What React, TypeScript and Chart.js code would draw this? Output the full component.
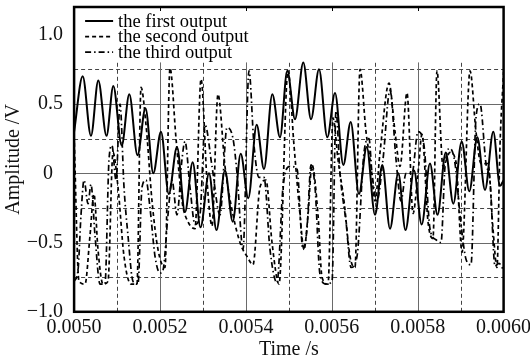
import React, { useEffect, useRef } from "react";
import Chart from "chart.js/auto";

// ---- data (time in microseconds, amplitude in V) ----
const seriesLabels = ["the first output", "the second output", "the third output"];

const firstTimeUs = [5000.0, 5020.0, 5039.3, 5056.3, 5075.4, 5091.3, 5110.8, 5128.5, 5147.6, 5166.2, 5184.4, 5202.3, 5220.5, 5239.6, 5258.2, 5276.1, 5294.3, 5314.1, 5331.5, 5351.3, 5369.3, 5387.9, 5405.6, 5425.1, 5442.1, 5461.5, 5479.4, 5496.4, 5514.3, 5533.6, 5551.6, 5570.2, 5589.5, 5607.5, 5626.8, 5644.0, 5663.3, 5681.3, 5700.6, 5717.6, 5735.5, 5754.8, 5771.6, 5791.4, 5809.3, 5828.6, 5846.1, 5865.2, 5882.9, 5902.4, 5920.1, 5938.8, 5956.7, 5976.0, 5991.6, 6000.0];
const firstValues = [0.30, 0.70, 0.27, 0.67, 0.27, 0.63, 0.20, 0.57, 0.13, 0.47, 0.00, 0.30, -0.15, 0.19, -0.28, 0.08, -0.39, 0.00, -0.41, 0.02, -0.35, 0.14, -0.18, 0.35, 0.03, 0.57, 0.26, 0.74, 0.39, 0.80, 0.39, 0.75, 0.26, 0.58, 0.06, 0.37, -0.15, 0.19, -0.30, 0.06, -0.40, 0.00, -0.41, 0.02, -0.37, 0.07, -0.30, 0.15, -0.22, 0.23, -0.13, 0.26, -0.12, 0.30, -0.09, -0.05];

const secondTimeUs = [5000.0, 5011.4, 5025.4, 5037.0, 5046.3, 5055.6, 5067.3, 5078.9, 5090.6, 5102.2, 5116.2, 5132.5, 5146.4, 5155.8, 5167.4, 5181.4, 5195.3, 5211.6, 5223.3, 5237.3, 5251.2, 5265.2, 5281.5, 5295.5, 5309.4, 5321.1, 5335.0, 5351.3, 5370.0, 5388.6, 5402.6, 5416.5, 5432.8, 5446.8, 5460.8, 5477.1, 5498.0, 5512.0, 5526.0, 5535.3, 5544.6, 5553.9, 5567.9, 5577.2, 5591.2, 5602.8, 5614.4, 5628.4, 5642.4, 5654.0, 5665.7, 5679.6, 5691.3, 5700.6, 5712.2, 5733.2, 5747.2, 5758.8, 5775.1, 5789.1, 5800.7, 5810.0, 5824.0, 5835.6, 5844.9, 5858.9, 5875.2, 5889.2, 5903.2, 5921.8, 5935.7, 5947.4, 5963.7, 5975.3, 5984.6, 5991.6, 6000.0];
const secondValues = [0.27, -0.78, -0.80, -0.45, -0.15, -0.55, -0.80, -0.78, 0.15, -0.10, -0.60, -0.80, -0.80, 0.62, 0.35, -0.20, -0.55, -0.68, 0.76, 0.25, -0.20, -0.35, -0.40, 0.68, -0.05, -0.38, 0.57, 0.05, -0.30, -0.52, -0.60, -0.66, -0.10, -0.05, -0.50, -0.80, 0.74, 0.20, -0.30, -0.55, -0.30, 0.06, -0.30, -0.75, -0.80, 0.40, 0.10, -0.20, -0.60, -0.68, 0.75, 0.30, 0.05, -0.20, 0.15, 0.65, 0.30, 0.05, 0.58, -0.29, 0.00, 0.28, -0.35, -0.47, 0.74, 0.05, 0.15, 0.08, -0.57, 0.74, 0.30, 0.07, 0.07, -0.40, -0.68, 0.20, 0.73];

const thirdTimeUs = [5000.0, 5009.1, 5016.1, 5023.1, 5032.4, 5039.3, 5048.7, 5060.3, 5071.9, 5081.3, 5088.2, 5097.6, 5106.9, 5116.2, 5125.5, 5137.1, 5148.8, 5158.1, 5167.4, 5176.7, 5188.4, 5200.0, 5207.0, 5218.6, 5227.9, 5239.6, 5251.2, 5258.2, 5269.8, 5281.5, 5293.1, 5304.8, 5321.1, 5339.7, 5356.0, 5370.0, 5379.3, 5393.3, 5407.2, 5418.9, 5430.5, 5442.1, 5456.1, 5472.4, 5486.4, 5502.7, 5519.0, 5532.9, 5542.3, 5551.6, 5560.9, 5572.5, 5586.5, 5600.5, 5609.8, 5619.1, 5633.1, 5644.7, 5658.7, 5675.0, 5686.6, 5693.6, 5705.2, 5719.2, 5735.5, 5749.5, 5761.1, 5772.8, 5786.7, 5800.7, 5814.7, 5828.6, 5842.6, 5854.3, 5863.6, 5875.2, 5886.9, 5898.5, 5912.5, 5924.1, 5935.7, 5945.1, 5959.0, 5968.3, 5980.0, 5989.3, 6000.0];
const thirdValues = [-0.78, -0.70, -0.30, -0.05, -0.22, -0.08, -0.45, -0.80, -0.80, 0.10, 0.20, -0.05, 0.50, -0.10, -0.45, -0.78, -0.80, -0.10, -0.05, -0.25, -0.60, -0.72, -0.70, -0.30, -0.05, -0.30, 0.10, 0.23, -0.10, -0.37, -0.30, 0.35, 0.05, -0.30, 0.33, 0.25, 0.00, -0.55, 0.74, 0.20, -0.03, -0.03, -0.55, -0.79, -0.10, 0.05, 0.03, -0.55, -0.40, 0.06, -0.10, -0.73, -0.80, -0.78, 0.45, 0.00, -0.35, -0.68, -0.60, 0.15, 0.25, 0.00, -0.20, 0.10, 0.60, 0.10, -0.20, 0.00, 0.00, 0.30, 0.20, -0.40, -0.48, -0.50, 0.05, 0.18, 0.07, -0.30, -0.62, -0.66, 0.40, 0.50, 0.07, -0.05, -0.67, -0.65, -0.70];

const xTickValues = [0.005, 0.0052, 0.0054, 0.0056, 0.0058, 0.006];
const xTickLabels = ["0.0050", "0.0052", "0.0054", "0.0056", "0.0058", "0.0060"];
const xGridSolid = [0.0052, 0.0054, 0.0056, 0.0058];
const xGridDashed = [0.0051, 0.0053, 0.0055, 0.0057, 0.0059];
const yTickValues = [-1.0, -0.5, 0, 0.5, 1.0];
const yTickLabels = ["\u22121.0", "\u22120.5", "0", "0.5", "1.0"];
const yGridSolid = [-0.5, 0, 0.5];
const yGridDashed = [-0.75, -0.25, 0.25, 0.75];
const yGridTop = 0.8;
const xMin = 0.005, xMax = 0.006, yMin = -1.0, yMax = 1.2;

const FONT = '"Liberation Serif", "Times New Roman", serif';

const toPoints = (ts: number[], vs: number[]) => ts.map((t, i) => ({ x: t / 1e6, y: vs[i] }));

const gridPlugin = {
  id: "customGrid",
  beforeDatasetsDraw(chart: any) {
    const { ctx, chartArea: a, scales } = chart;
    const xs = scales.x, ys = scales.y;
    ctx.save();
    ctx.lineWidth = 1;
    ctx.strokeStyle = "#6a6a6a";
    ctx.setLineDash([]);
    yGridSolid.forEach((v) => {
      const y = Math.round(ys.getPixelForValue(v)) + 0.5;
      ctx.beginPath(); ctx.moveTo(a.left, y); ctx.lineTo(a.right, y); ctx.stroke();
    });
    ctx.strokeStyle = "#444";
    ctx.setLineDash([4, 3]);
    yGridDashed.forEach((v) => {
      const y = Math.round(ys.getPixelForValue(v)) + 0.5;
      ctx.beginPath(); ctx.moveTo(a.left, y); ctx.lineTo(a.right, y); ctx.stroke();
    });
    const yTop = ys.getPixelForValue(yGridTop);
    ctx.strokeStyle = "#6a6a6a";
    ctx.setLineDash([]);
    xGridSolid.forEach((v) => {
      const x = Math.round(xs.getPixelForValue(v)) + 0.5;
      ctx.beginPath(); ctx.moveTo(x, a.bottom); ctx.lineTo(x, yTop); ctx.stroke();
    });
    ctx.strokeStyle = "#444";
    ctx.setLineDash([4, 3]);
    xGridDashed.forEach((v) => {
      const x = Math.round(xs.getPixelForValue(v)) + 0.5;
      ctx.beginPath(); ctx.moveTo(x, a.bottom); ctx.lineTo(x, yTop); ctx.stroke();
    });
    ctx.restore();
  },
  afterDatasetsDraw(chart: any) {
    const { ctx, chartArea: a, scales } = chart;
    ctx.save();
    ctx.strokeStyle = "#000";
    ctx.setLineDash([]);
    ctx.lineWidth = 1;
    xGridSolid.forEach((v) => {
      const x = Math.round(scales.x.getPixelForValue(v)) + 0.5;
      ctx.beginPath(); ctx.moveTo(x, a.top); ctx.lineTo(x, a.top + 4); ctx.stroke();
    });
    ctx.lineWidth = 2.5;
    ctx.strokeRect(a.left, a.top, a.right - a.left, a.bottom - a.top);
    chart.data.datasets.forEach((ds: any, i: number) => {
      const y = a.top + 14 + i * 15.6;
      const x0 = a.left + 11, x1 = a.left + 39;
      ctx.lineWidth = ds.borderWidth;
      ctx.setLineDash(ds.borderDash || []);
      ctx.beginPath(); ctx.moveTo(x0, y); ctx.lineTo(x1, y); ctx.stroke();
      ctx.setLineDash([]);
      ctx.fillStyle = "#000";
      ctx.font = `18.5px ${FONT}`;
      ctx.textBaseline = "middle";
      ctx.textAlign = "left";
      ctx.fillText(ds.label, x1 + 5, y + 1);
    });
    ctx.restore();
  },
};

export default function App() {
  const ref = useRef<HTMLCanvasElement>(null);
  useEffect(() => {
    if (!ref.current) return;
    const common = { pointRadius: 0, borderColor: "#000", fill: false, cubicInterpolationMode: "monotone" as const };
    const chart = new Chart(ref.current, {
      type: "line",
      data: {
        datasets: [
          { ...common, label: seriesLabels[0], data: toPoints(firstTimeUs, firstValues), borderWidth: 2 },
          { ...common, label: seriesLabels[1], data: toPoints(secondTimeUs, secondValues), borderWidth: 1.7, borderDash: [4, 3] },
          { ...common, label: seriesLabels[2], data: toPoints(thirdTimeUs, thirdValues), borderWidth: 1.7, borderDash: [6, 3, 1.5, 3] },
        ],
      },
      options: {
        animation: false,
        responsive: false,
        events: [],
        layout: { padding: { top: 7, right: 26.4, left: 0, bottom: 0 } },
        plugins: { legend: { display: false }, tooltip: { enabled: false } },
        scales: {
          x: {
            type: "linear",
            min: xMin,
            max: xMax,
            grid: { display: false, drawTicks: false },
            border: { display: false },
            afterBuildTicks: (s: any) => { s.ticks = xTickValues.map((v) => ({ value: v })); },
            afterFit: (s: any) => { s.height = 49.2; s.paddingLeft = 0; s.paddingRight = 0; },
            ticks: {
              autoSkip: false, maxRotation: 0, minRotation: 0, padding: 4, color: "#111",
              font: { family: FONT, size: 20 },
              callback: (_v: any, i: number) => xTickLabels[i],
            },
            title: { display: true, text: "Time /s", color: "#111", font: { family: FONT, size: 20 }, padding: { top: 0, bottom: -1 } },
          },
          y: {
            type: "linear",
            min: yMin,
            max: yMax,
            grid: { display: false, drawTicks: false },
            border: { display: false },
            afterBuildTicks: (s: any) => { s.ticks = yTickValues.map((v) => ({ value: v })); },
            afterFit: (s: any) => { s.width = 74.1; s.paddingTop = 0; s.paddingBottom = 0; },
            ticks: {
              autoSkip: false, padding: 11, color: "#111",
              font: { family: FONT, size: 20 },
              callback: (_v: any, i: number) => (yTickLabels[i] === "0" ? "0\u2002" : yTickLabels[i]),
            },
            title: { display: true, text: "Amplitude /V", color: "#111", font: { family: FONT, size: 20 }, padding: { top: 2, bottom: 0 } },
          },
        },
      },
      plugins: [gridPlugin],
    });
    return () => chart.destroy();
  }, []);
  return (
    <div style={{ position: "fixed", left: 0, top: 0, width: 530, height: 361, background: "#fff" }}>
      <canvas ref={ref} width={530} height={361} style={{ width: 530, height: 361, display: "block" }} />
    </div>
  );
}
